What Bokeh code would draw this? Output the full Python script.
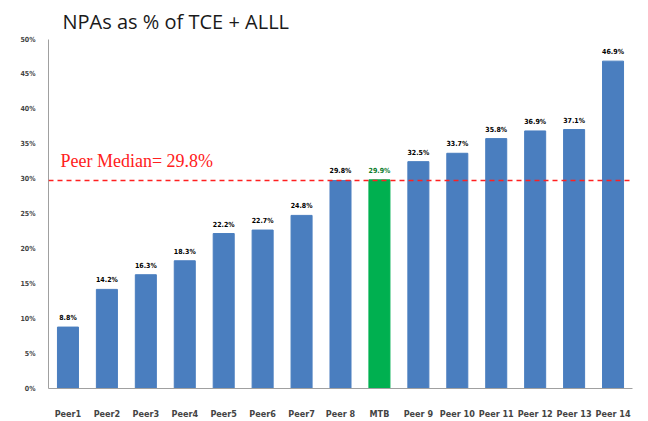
from bokeh.plotting import figure
from bokeh.models import ColumnDataSource, Span, Label, FixedTicker, Range1d
from bokeh.embed import file_html
from bokeh.resources import INLINE

categories = ["Peer1", "Peer2", "Peer3", "Peer4", "Peer5", "Peer6", "Peer7", "Peer 8",
              "MTB", "Peer 9", "Peer 10", "Peer 11", "Peer 12", "Peer 13", "Peer 14"]
values = [8.8, 14.2, 16.3, 18.3, 22.2, 22.7, 24.8, 29.8, 29.9, 32.5, 33.7, 35.8, 36.9, 37.1, 46.9]
peer_median = 29.8
y_ticks = [0, 5, 10, 15, 20, 25, 30, 35, 40, 45, 50]

colors = ["#00B050" if c == "MTB" else "#4A7EBF" for c in categories]
label_colors = ["#0a7a2a" if c == "MTB" else "#000000" for c in categories]
labels = [f"{v:.1f}%" for v in values]

src = ColumnDataSource(dict(cat=categories, val=values, color=colors,
                            lab=labels, lcol=label_colors))

p = figure(x_range=categories, y_range=Range1d(0, 50), width=637, height=421,
           output_backend="svg", toolbar_location=None,
           min_border_left=48, min_border_right=5, min_border_bottom=28, min_border_top=6)
p.title.text = "NPAs as % of TCE + ALLL"
p.title.text_font = "Open Sans"
p.title.text_font_size = "20px"
p.title.text_font_style = "normal"
p.title.text_color = "#1a1a1a"
p.title.offset = 14

p.vbar(x="cat", top="val", width=0.54, color="color", source=src)
p.text(x="cat", y="val", text="lab", text_color="lcol", source=src,
       text_align="center", text_baseline="bottom", y_offset=-5,
       text_font_size="7px", text_font_style="bold",
       text_font={"value": "DejaVu Sans Condensed"})

p.add_layout(Span(location=peer_median, dimension="width", line_color="#FF2020",
                  line_dash="5 4", line_width=1.5))
p.add_layout(Label(x=12, x_units="screen", y=32.6, text=f"Peer Median= {peer_median}%",
                   text_color="#FF2020", text_font="Liberation Serif",
                   text_font_size="18px", text_baseline="middle"))

p.grid.visible = False
p.outline_line_color = None
p.yaxis.ticker = FixedTicker(ticks=y_ticks)
p.yaxis.major_label_overrides = {t: f"{t}%" for t in y_ticks}
p.yaxis.axis_line_color = "#A0A0A0"
p.yaxis.major_tick_line_color = None
p.yaxis.minor_tick_line_color = None
p.yaxis.major_label_text_font = "DejaVu Sans Condensed"
p.yaxis.major_label_text_font_style = "bold"
p.yaxis.major_label_text_font_size = "7px"
p.yaxis.major_label_standoff = 7
p.xaxis.axis_line_color = "#A0A0A0"
p.xaxis.major_tick_line_color = None
p.xaxis.major_label_text_font = "DejaVu Sans Condensed"
p.xaxis.major_label_text_font_style = "bold"
p.xaxis.major_label_text_font_size = "9px"
p.xaxis.major_label_standoff = 14
p.x_range.range_padding = 0

open("out.html", "w").write(file_html(p, INLINE))
